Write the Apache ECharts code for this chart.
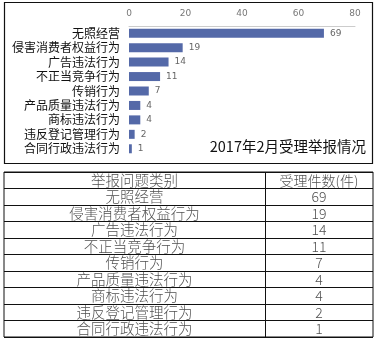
<!DOCTYPE html>
<html><head><meta charset="utf-8">
<script src="https://cdn.jsdelivr.net/npm/echarts@6/dist/echarts.min.js"></script>
<style>html,body{margin:0;padding:0;background:#fff;}#c{width:377px;height:339px;}</style>
</head><body><div id="c"></div>
<script>
const categories = ['无照经营','侵害消费者权益行为','广告违法行为','不正当竞争行为','传销行为','产品质量违法行为','商标违法行为','违反登记管理行为','合同行政违法行为'];
const values = [69,19,14,11,7,4,4,2,1];
const xTicks = [0,20,40,60,80];
const chartTitle = '2017年2月受理举报情况';
const tableHeader = ['举报问题类别','受理件数(件)'];

const font = '"Noto Sans CJK SC","Noto Sans",sans-serif';
const tableRows = [tableHeader[0]].concat(categories);
const col1 = 261; // divider position in table grid units (px wide grid)
const chart = echarts.init(document.getElementById('c'));
chart.setOption({
  animation:false,
  graphic:[
    {type:'rect',shape:{x:4.5,y:2.5,width:368,height:161},style:{fill:'none',stroke:'#111',lineWidth:1.2},z:-1},
    {type:'text',right:11,top:139,style:{text:chartTitle,font:'14.5px '+font,fill:'#111'}}
  ],
  grid:[
    {left:129,right:22,top:26,height:130},
    {left:4,width:369,top:172,height:165,show:true,borderColor:'#111',borderWidth:1}
  ],
  xAxis:[
    {gridIndex:0,type:'value',position:'top',min:0,max:80,interval:20,
     axisLine:{show:true,lineStyle:{color:'#ccc'}},axisTick:{show:false},splitLine:{show:false},
     axisLabel:{color:'#777',fontSize:9,margin:8,fontFamily:'DejaVu Sans',formatter:v=>xTicks.includes(v)?String(v):''}},
    {gridIndex:1,type:'value',min:0,max:369,show:false}
  ],
  yAxis:[
    {gridIndex:0,type:'category',inverse:true,data:categories,
     axisLine:{show:false},axisTick:{show:false},
     axisLabel:{interval:0,color:'#111',fontSize:12,margin:9,fontFamily:font}},
    {gridIndex:1,type:'category',inverse:true,data:tableRows,
     axisLine:{show:false},axisTick:{show:false},axisLabel:{show:false},
     splitLine:{show:true,interval:0,lineStyle:{color:'#111',width:1}}}
  ],
  series:[
    {type:'bar',xAxisIndex:0,yAxisIndex:0,data:values,barWidth:9,
     itemStyle:{color:'#5469a8'},
     label:{show:true,position:'right',distance:6,color:'#666',fontSize:9,fontFamily:'DejaVu Sans'}},
    {type:'scatter',xAxisIndex:1,yAxisIndex:1,symbolSize:0,
     data:tableRows.map(r=>[col1/2,r]),
     label:{show:true,position:'inside',formatter:p=>p.data[1],color:'#222',fontSize:14.5,fontFamily:font,fontWeight:300},
     markLine:{silent:true,symbol:'none',label:{show:false},lineStyle:{color:'#111',width:1,type:'solid'},data:[{xAxis:col1}]}},
    {type:'scatter',xAxisIndex:1,yAxisIndex:1,symbolSize:0,
     data:[[ (col1+369)/2, tableRows[0], tableHeader[1]]].concat(categories.map((c,i)=>[(col1+369)/2,c,String(values[i])])),
     label:{show:true,position:'inside',formatter:p=>p.data[2],color:'#222',fontSize:14,fontFamily:font,fontWeight:300}}
  ]
});
</script></body></html>
